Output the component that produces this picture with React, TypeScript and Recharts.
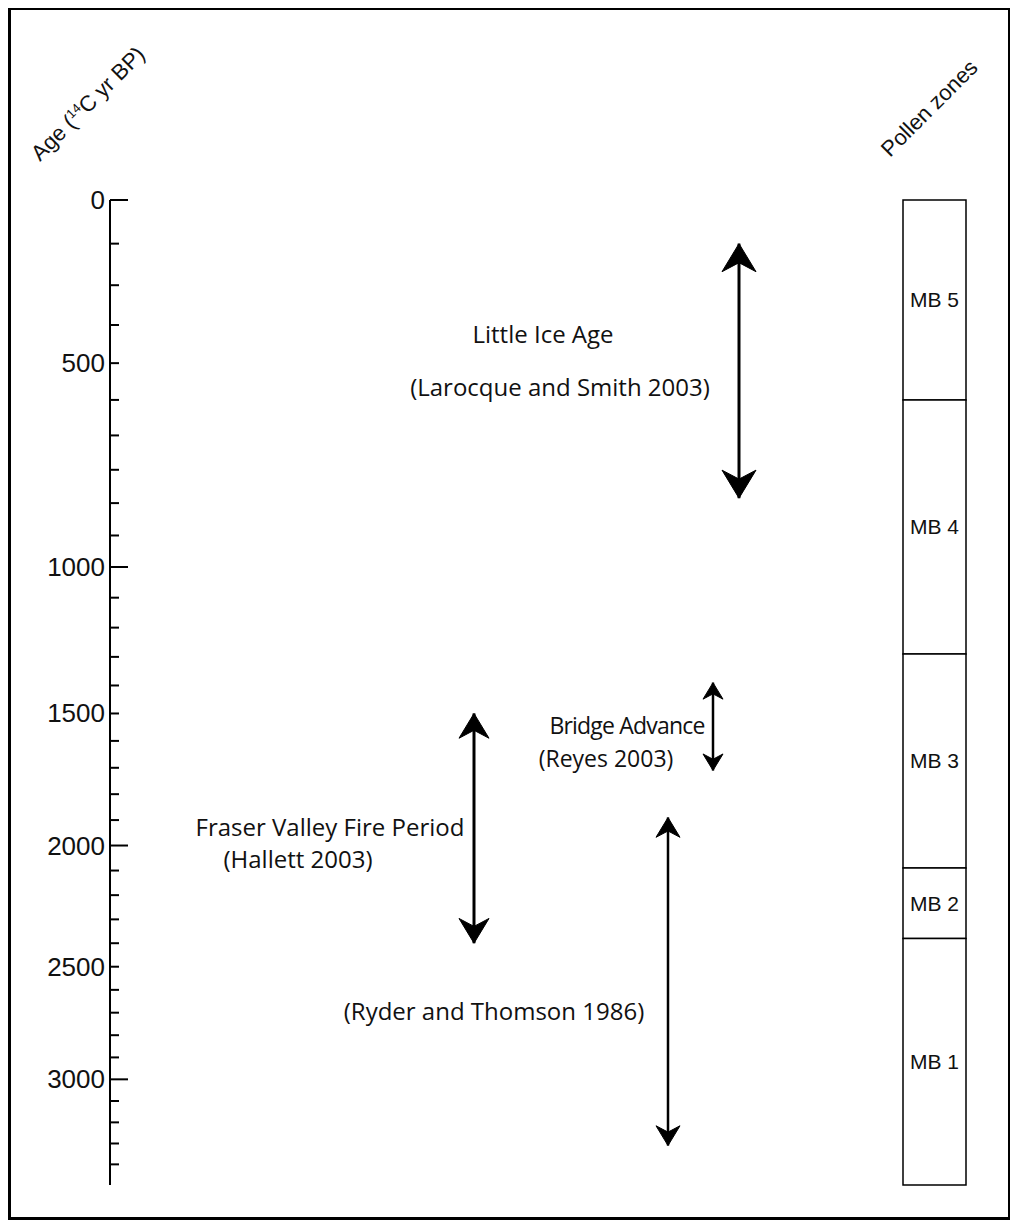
import { ComposedChart, XAxis, YAxis, Line, ReferenceArea, ReferenceDot } from "recharts";

// The original age axis is compressed downwards (age-depth model). A sqrt scale on
// age shifted by this offset reproduces the tick spacing of the printed figure.
const AGE_SHIFT = 930;
const AGE_MAX = 3500;

// axis ticks, every 100 yr; labelled ones as printed (the "500" sits on the 400 tick)
const ageTicks = [
  0, 100, 200, 300, 400, 500, 600, 700, 800, 900, 1000, 1100, 1200, 1300, 1400, 1500, 1600,
  1700, 1800, 1900, 2000, 2100, 2200, 2300, 2400, 2500, 2600, 2700, 2800, 2900, 3000, 3100,
  3200, 3300, 3400,
];
const tickLabels: Record<number, string> = {
  0: "0",
  400: "500",
  1000: "1000",
  1500: "1500",
  2000: "2000",
  2500: "2500",
  3000: "3000",
};
const longTicks = [0, 1000, 2000, 3000];

// pollen zones
const zoneNames = ["MB 5", "MB 4", "MB 3", "MB 2", "MB 1"];
const zoneTops = [0, 500, 1290, 2090, 2380];
const zoneBottoms = [500, 1290, 2090, 2380, 3500];

// dated events (double arrows)
const eventNames = ["Little Ice Age", "Bridge Advance", "Fraser Valley Fire Period", "Ryder and Thomson"];
const eventStarts = [100, 1390, 1500, 1890];
const eventEnds = [785, 1710, 2400, 3310];

// ---- layout (horizontal column units, 0..900 across the plot) ----
const eventCols = [629, 603, 364, 558];
const headHalf = [17, 10, 15, 12];
const eventStroke = [3, 2.5, 3, 2.5];
const zoneCol: [number, number] = [793, 856];
const notes = [
  { text: "Little Ice Age", col: 433, age: 322, size: 24, track: 0 },
  { text: "(Larocque and Smith 2003)", col: 450, age: 464, size: 24, track: 0 },
  { text: "Bridge Advance", col: 517, age: 1540, size: 23, track: -0.8 },
  { text: "(Reyes 2003)", col: 496, age: 1665, size: 23, track: 0 },
  { text: "Fraser Valley Fire Period", col: 220, age: 1925, size: 24, track: 0 },
  { text: "(Hallett 2003)", col: 188, age: 2050, size: 24, track: 0 },
  { text: "(Ryder and Thomson 1986)", col: 384, age: 2690, size: 24, track: 0 },
];

const sans = "'Liberation Sans', Arial, Helvetica, sans-serif";
const noteFont = "'Open Sans', 'Noto Sans', sans-serif";

const shifted = (d: { age: number }) => d.age + AGE_SHIFT;

const AgeTick = (props: any) => {
  const { x, y, payload } = props;
  const v = Math.round(payload.value - AGE_SHIFT);
  const len = longTicks.includes(v) ? 18 : 9;
  const label = tickLabels[v];
  return (
    <g>
      <line x1={x} x2={x + len} y1={y} y2={y} stroke="#000" strokeWidth={2} />
      {label && (
        <text x={x - 5} y={y} textAnchor="end" dominantBaseline="central" fontSize={26} fontFamily={sans} fill="#111">
          {label}
        </text>
      )}
    </g>
  );
};

const arrowHead = (half: number) => (p: any) => {
  const { cx, cy, index } = p;
  const dir = index === 0 ? 1 : -1; // first point is the upper (younger) end
  const L = half * 1.65;
  const N = L * 0.68;
  const d = `M${cx},${cy} L${cx - half},${cy + dir * L} L${cx},${cy + dir * N} L${cx + half},${cy + dir * L} Z`;
  return <path key={`h${index}`} d={d} fill="#000" stroke="#000" strokeWidth={1} />;
};

export default function App() {
  return (
    <div style={{ position: "relative", width: 1003, height: 1213, border: "3px solid #000", boxSizing: "border-box", marginTop: -1 }}>
      <div style={{ position: "absolute", left: -3, top: -2 }}>
        <ComposedChart width={1003} height={1212} margin={{ top: 192, right: 1, bottom: 35, left: 0 }}>
          <XAxis type="number" dataKey="x" domain={[0, 900]} hide allowDataOverflow />
          <YAxis
            type="number"
            scale="sqrt"
            reversed
            domain={[AGE_SHIFT, AGE_MAX + AGE_SHIFT]}
            ticks={ageTicks.map((a) => a + AGE_SHIFT)}
            interval={0}
            allowDataOverflow
            width={102}
            tickSize={0}
            tickMargin={0}
            tickLine={false}
            axisLine={{ stroke: "#000", strokeWidth: 2 }}
            tick={<AgeTick />}
          />
          {zoneNames.map((z, i) => (
            <ReferenceArea
              key={z}
              x1={zoneCol[0]}
              x2={zoneCol[1]}
              y1={zoneTops[i] + AGE_SHIFT}
              y2={zoneBottoms[i] + AGE_SHIFT}
              fill="#fff"
              fillOpacity={1}
              stroke="#000"
              strokeWidth={1.5}
              label={{ value: z, position: "center", fontSize: 21, fontFamily: sans, fill: "#111" }}
            />
          ))}
          {eventNames.map((n, i) => (
            <Line
              key={n}
              data={[
                { x: eventCols[i], age: eventStarts[i] },
                { x: eventCols[i], age: eventEnds[i] },
              ]}
              dataKey={shifted}
              type="linear"
              stroke="#000"
              strokeWidth={eventStroke[i]}
              dot={arrowHead(headHalf[i])}
              activeDot={false}
              legendType="none"
              isAnimationActive={false}
            />
          ))}
          {notes.map((n) => (
            <ReferenceDot
              key={n.text}
              x={n.col}
              y={n.age + AGE_SHIFT}
              r={0}
              shape={(p: any) => (
                <text
                  x={p.cx}
                  y={p.cy}
                  textAnchor="middle"
                  dominantBaseline="central"
                  fontSize={n.size}
                  letterSpacing={n.track}
                  fontFamily={noteFont}
                  fill="#111"
                >
                  {n.text}
                </text>
              )}
            />
          ))}
          <text x={32} y={154} transform="rotate(-45 32 154)" fontSize={22} fontFamily={sans} fill="#111">
            Age (<tspan fontSize={13} dy={-8}>14</tspan>
            <tspan dy={8}>C yr BP)</tspan>
          </text>
          <text x={882} y={150} transform="rotate(-45 882 150)" fontSize={22} fontFamily={sans} fill="#111">
            Pollen zones
          </text>
        </ComposedChart>
      </div>
    </div>
  );
}
